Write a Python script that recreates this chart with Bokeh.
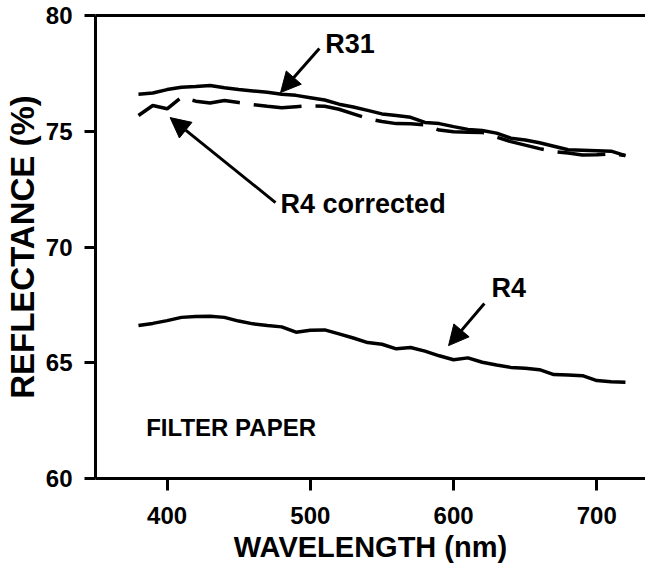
import numpy as np
from bokeh.plotting import figure
from bokeh.models import (ColumnDataSource, LinearAxis, FixedTicker, Label, Arrow,
                          NormalHead, Range1d)
from bokeh.embed import file_html
from bokeh.resources import INLINE

# ---------------- data ----------------
wavelength = [380, 390, 400, 410, 420, 430, 440, 450, 460, 470, 480, 490, 500,
              510, 520, 530, 540, 550, 560, 570, 580, 590, 600, 610, 620, 630,
              640, 650, 660, 670, 680, 690, 700, 710, 720]

r31 = [76.60, 76.65, 76.80, 76.90, 76.93, 76.98, 76.88, 76.80, 76.74, 76.68,
       76.60, 76.55, 76.45, 76.35, 76.17, 76.05, 75.90, 75.75, 75.68, 75.60,
       75.38, 75.33, 75.20, 75.08, 75.03, 74.92, 74.70, 74.62, 74.50, 74.35,
       74.20, 74.18, 74.16, 74.14, 73.95]

r4_corrected = [75.68, 76.11, 75.97, 76.47, 76.30, 76.22, 76.33, 76.24, 76.15,
                76.08, 76.02, 76.06, 76.10, 76.08, 75.95, 75.75, 75.55, 75.42,
                75.33, 75.32, 75.28, 75.05, 74.98, 74.96, 74.95, 74.75, 74.55,
                74.40, 74.25, 74.12, 74.06, 73.97, 73.98, 74.03, 73.95]

r4 = [66.61, 66.70, 66.82, 66.96, 67.00, 67.01, 66.96, 66.80, 66.68, 66.61,
      66.55, 66.32, 66.40, 66.42, 66.25, 66.07, 65.87, 65.80, 65.60, 65.66,
      65.50, 65.30, 65.13, 65.21, 65.02, 64.90, 64.80, 64.76, 64.70, 64.49,
      64.47, 64.44, 64.23, 64.18, 64.16]

x_ticks = [400, 500, 600, 700]
y_ticks = [60, 65, 70, 75, 80]

FONT = "Liberation Sans"

src = ColumnDataSource(dict(x=wavelength, r31=r31, r4c=r4_corrected, r4=r4))

p = figure(width=645, height=567, output_backend="svg", toolbar_location=None,
           x_range=Range1d(350, 734.0), y_range=Range1d(60, 80),
           min_border_left=92, min_border_right=0, min_border_top=15,
           min_border_bottom=89, x_axis_location=None, y_axis_location=None)
p.outline_line_color = None
p.grid.visible = False
p.background_fill_color = "white"
p.border_fill_color = "white"

# axes
xa = LinearAxis(ticker=FixedTicker(ticks=x_ticks), axis_label="WAVELENGTH (nm)")
ya = LinearAxis(ticker=FixedTicker(ticks=y_ticks), axis_label="REFLECTANCE (%)")
for ax in (xa, ya):
    ax.axis_line_width = 3
    ax.axis_line_color = "black"
    ax.major_tick_line_width = 3
    ax.major_tick_line_color = "black"
    ax.major_tick_in = 0
    ax.minor_tick_line_color = None
    ax.major_label_text_font = FONT
    ax.major_label_text_font_style = "bold"
    ax.major_label_text_font_size = "24px"
    ax.major_label_text_color = "black"
    ax.axis_label_text_font = FONT
    ax.axis_label_text_font_style = "bold"
    ax.axis_label_text_color = "black"
xa.major_tick_out = 12
xa.major_label_standoff = 16
xa.axis_label_text_font_size = "29px"
xa.axis_label_standoff = 4
ya.major_tick_out = 11
ya.major_label_standoff = 12
ya.axis_label_text_font_size = "33px"
ya.axis_label_standoff = 2
p.add_layout(xa, "below")
p.add_layout(ya, "left")

top = LinearAxis(ticker=FixedTicker(ticks=[]))
top.axis_line_width = 3
top.major_tick_out = 0
top.major_tick_in = 0
top.minor_tick_line_color = None
top.major_label_text_font_size = "0px"
top.major_label_standoff = 0
p.add_layout(top, "above")

# curves
p.line("x", "r31", source=src, line_width=3.5, line_color="black")
p.line("x", "r4c", source=src, line_width=3.5, line_color="black",
       line_dash="48 14")
p.line("x", "r4", source=src, line_width=3.5, line_color="black")

# annotations
def add_label(text, x, y, size="27px", **kw):
    p.add_layout(Label(x=x, y=y, text=text, text_font=FONT, text_font_style="bold",
                       text_font_size=size, text_color="black", **kw))

add_label("R31", 510.4, 78.14)
add_label("R4 corrected", 479.2, 71.23)
add_label("R4", 626.4, 67.56)
add_label("FILTER PAPER", 385.4, 61.64, size="24px")

for (x0, y0, x1, y1) in [(506.3, 78.57, 479.2, 76.67),
                         (475.7, 71.92, 402.1, 75.59),
                         (621.5, 67.56, 596.5, 65.74)]:
    p.add_layout(Arrow(x_start=x0, y_start=y0, x_end=x1, y_end=y1,
                       line_width=3, line_color="black",
                       end=NormalHead(size=20, fill_color="black",
                                      line_color="black", line_width=1)))

open("out.html", "w").write(file_html(p, INLINE))
